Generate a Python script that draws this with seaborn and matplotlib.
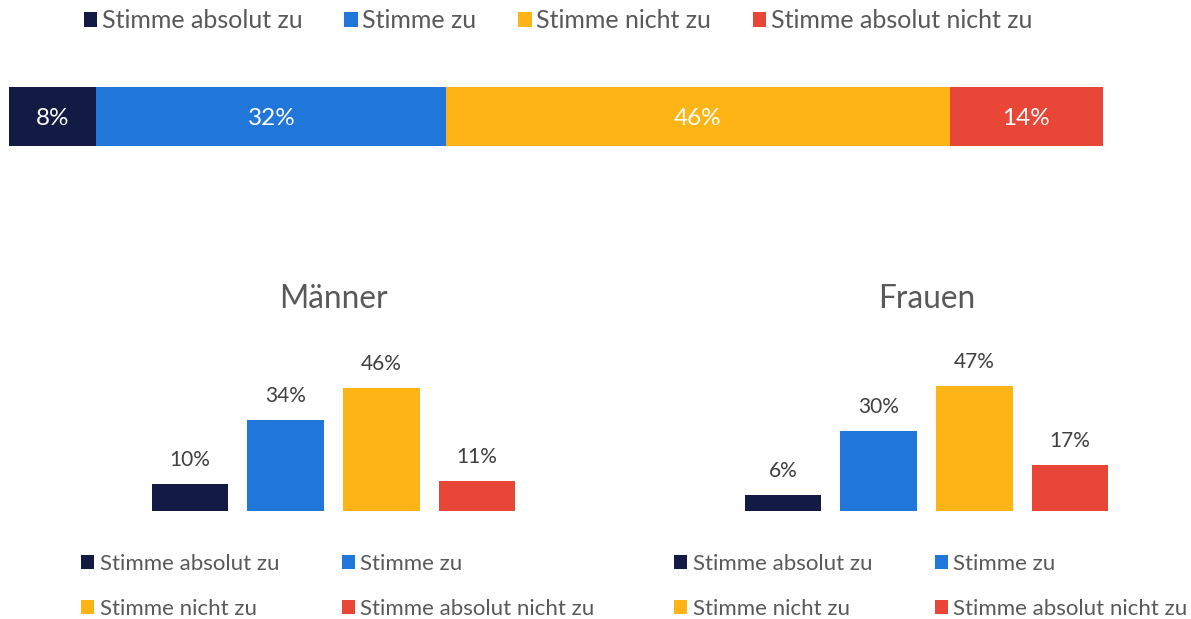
import matplotlib
matplotlib.use("Agg")
import matplotlib.pyplot as plt
from matplotlib.patches import Patch
import seaborn as sns
import pandas as pd

# ---- data ----
categories = ["Stimme absolut zu", "Stimme zu", "Stimme nicht zu", "Stimme absolut nicht zu"]
total_values = [8, 32, 46, 14]
maenner_values = [10, 34, 46, 11]
frauen_values = [6, 30, 47, 17]
group_titles = ["Männer", "Frauen"]
colors = ["#131B45", "#2176D9", "#FDB414", "#E84637"]

sns.set_theme(style="white")
plt.rcParams["font.family"] = ["Lato", "DejaVu Sans"]

W, H = 1191, 619
fig = plt.figure(figsize=(W / 100, H / 100), dpi=100)

def fx(px):
    return px / W

def fy(py):
    return 1 - py / H

LEG_COLOR = "#595959"
VAL_COLOR = "#404040"

# ---- top stacked bar ----
ax_top = fig.add_axes([fx(9), fy(145.7), fx(1102.7 - 9), (145.7 - 87.3) / H])
left = 0
for cat, val, col in zip(categories, total_values, colors):
    ax_top.barh([0], [val], left=left, height=1.0, color=col, edgecolor="none")
    ax_top.annotate(f"{val}%", (left + val / 2, 0), xytext=(0, -6.3),
                    textcoords="offset points", ha="center", va="baseline",
                    color="white", fontsize=17.5)
    left += val
ax_top.set_xlim(0, 100)
ax_top.set_ylim(-0.5, 0.5)
ax_top.axis("off")

handles = [Patch(facecolor=c, edgecolor="none") for c in colors]
fig.legend(handles, categories, loc="center left", bbox_to_anchor=(fx(84), fy(20.5)),
           ncol=4, frameon=False, fontsize=18, labelcolor=LEG_COLOR,
           handlelength=0.53, handleheight=0.53, handletextpad=0.18,
           columnspacing=1.68, borderpad=0, borderaxespad=0)

# ---- bottom bar charts ----
pitch = 95.67
px_per_unit = 2.66
ymax = 55
groups = [(group_titles[0], maenner_values, 190.0, 81),
          (group_titles[1], frauen_values, 783.0, 674)]
for title, vals, c0, leg_x in groups:
    ax_left = c0 - pitch / 2
    ax = fig.add_axes([fx(ax_left), fy(510.7), fx(4 * pitch), ymax * px_per_unit / H])
    df = pd.DataFrame({"cat": categories, "val": vals})
    sns.barplot(data=df, x="cat", y="val", hue="cat", palette=colors,
                hue_order=categories, order=categories, width=0.8,
                saturation=1, legend=False, ax=ax, edgecolor="none")
    for i, v in enumerate(vals):
        ax.annotate(f"{v}%", (i, v), xytext=(0, 13.0), textcoords="offset points",
                    ha="center", va="baseline", color=VAL_COLOR, fontsize=15)
    ax.set_xlim(-0.5, 3.5)
    ax.set_ylim(0, ymax)
    ax.axis("off")
    fig.text(fx(c0 + 1.5 * pitch), fy(307.7), title, ha="center", va="baseline",
             fontsize=22.8, color=LEG_COLOR)
    order = [0, 2, 1, 3]
    fig.legend([handles[i] for i in order], [categories[i] for i in order],
               loc="center left", bbox_to_anchor=(fx(leg_x), fy(586.5)),
               ncol=2, frameon=False, fontsize=16, labelcolor=LEG_COLOR,
               handlelength=0.6, handleheight=0.6, handletextpad=0.24,
               columnspacing=2.82, labelspacing=1.14, borderpad=0, borderaxespad=0)

fig.savefig("out.png", dpi=100)
